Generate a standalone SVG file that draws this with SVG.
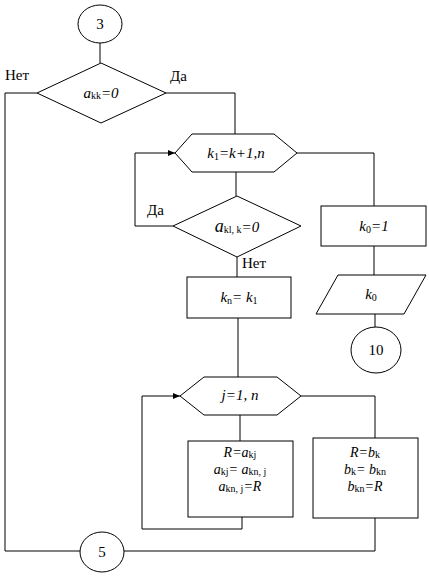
<svg xmlns="http://www.w3.org/2000/svg" width="429" height="576" viewBox="0 0 429 576">
<defs>
<style>
.s{fill:#fff;stroke:#000;stroke-width:1}
.c{fill:none;stroke:#000;stroke-width:1}
text{font-family:'Liberation Serif','Times New Roman',serif;font-size:15px;fill:#000}
.i{font-style:italic}
.m{text-anchor:middle}
.sub{font-size:10px;font-style:normal}
.bx{font-size:14px}
</style>
<marker id="ar" markerWidth="8" markerHeight="8" refX="7" refY="4" orient="auto" markerUnits="userSpaceOnUse">
<path d="M0,1 L7,4 L0,7 Z" fill="#000"/>
</marker>
</defs>
<rect width="429" height="576" fill="#fff"/>
<g id="connectors">
<path class="c" d="M100,43 V63"/>
<path class="c" d="M37,93 H5 V551 H80"/>
<path class="c" d="M166,93 H235 V134"/>
<path class="c" d="M236,172 V196"/>
<path class="c" d="M173,226 H135 V153 H175" marker-end="url(#ar)"/>
<path class="c" d="M297,153 H374 V206"/>
<path class="c" d="M374,246 V275"/>
<path class="c" d="M375,314 V327"/>
<path class="c" d="M237,257 V277"/>
<path class="c" d="M238,318 V377"/>
<path class="c" d="M240,415 V441"/>
<path class="c" d="M242,517 V529 H142 V396 H180" marker-end="url(#ar)"/>
<path class="c" d="M301,396 H375 V438"/>
<path class="c" d="M375,518 V551 H124"/>
</g>
<g id="n3">
<ellipse class="s" cx="100" cy="24" rx="22" ry="19"/>
<text class="m" x="100" y="29">3</text>
</g>
<g id="d1">
<polygon class="s" points="101,63 166,93 101,123 37,93"/>
<text class="i m" x="101" y="98">a<tspan class="sub" dy="1">kk</tspan><tspan dy="-1">=0</tspan></text>
</g>
<text x="5" y="80" font-size="14">Нет</text>
<text x="170" y="81" font-size="14">Да</text>
<g id="h1">
<polygon class="s" points="175,153 192,134 274,134 297,153 274,172 192,172"/>
<text class="i m" x="236" y="158">k<tspan class="sub" dy="2">1</tspan><tspan dy="-2">=k+1,n</tspan></text>
</g>
<g id="d2">
<polygon class="s" points="237,196 301,226 237,257 173,226"/>
<text class="i m" x="237" y="232"><tspan font-size="18">a</tspan><tspan class="sub" font-size="11" dy="1">kl, k</tspan><tspan dy="-1">=0</tspan></text>
</g>
<text x="147" y="215" font-size="14">Да</text>
<text x="242" y="268" font-size="14">Нет</text>
<g id="b1">
<rect class="s" x="321" y="206" width="105" height="40"/>
<text class="i m" x="374" y="231">k<tspan class="sub" dy="2">0</tspan><tspan dy="-2">=1</tspan></text>
</g>
<g id="p1">
<polygon class="s" points="338,275 426,275 404,314 316,314"/>
<text class="i m" x="371" y="299">k<tspan class="sub" dy="2">0</tspan></text>
</g>
<g id="n10">
<ellipse class="s" cx="376" cy="350" rx="25" ry="23"/>
<text class="m" x="376" y="355">10</text>
</g>
<g id="b2">
<rect class="s" x="187" y="277" width="104" height="41"/>
<text class="i m" x="239" y="302">k<tspan class="sub" dy="2">n</tspan><tspan dy="-2">= k</tspan><tspan class="sub" dy="2">1</tspan></text>
</g>
<g id="h2">
<polygon class="s" points="180,396 204,377 277,377 301,396 277,415 204,415"/>
<text class="i m" x="240" y="400">j=1, n</text>
</g>
<g id="b3">
<rect class="s" x="188" y="441" width="105" height="76"/>
<text class="i m bx" x="240" y="457">R=a<tspan class="sub" dy="1">kj</tspan></text>
<text class="i m bx" x="240" y="474">a<tspan class="sub" dy="1">kj</tspan><tspan dy="-1">= a</tspan><tspan class="sub" dy="1">kn, j</tspan></text>
<text class="i m bx" x="240" y="491">a<tspan class="sub" dy="1">kn, j</tspan><tspan dy="-1">=R</tspan></text>
</g>
<g id="b4">
<rect class="s" x="313" y="438" width="105" height="80"/>
<text class="i m bx" x="365" y="457">R=b<tspan class="sub" dy="1">k</tspan></text>
<text class="i m bx" x="365" y="474">b<tspan class="sub" dy="1">k</tspan><tspan dy="-1">= b</tspan><tspan class="sub" dy="1">kn</tspan></text>
<text class="i m bx" x="365" y="491">b<tspan class="sub" dy="1">kn</tspan><tspan dy="-1">=R</tspan></text>
</g>
<g id="n5">
<ellipse class="s" cx="102" cy="552" rx="22" ry="20"/>
<text class="m" x="102" y="557">5</text>
</g>
</svg>
